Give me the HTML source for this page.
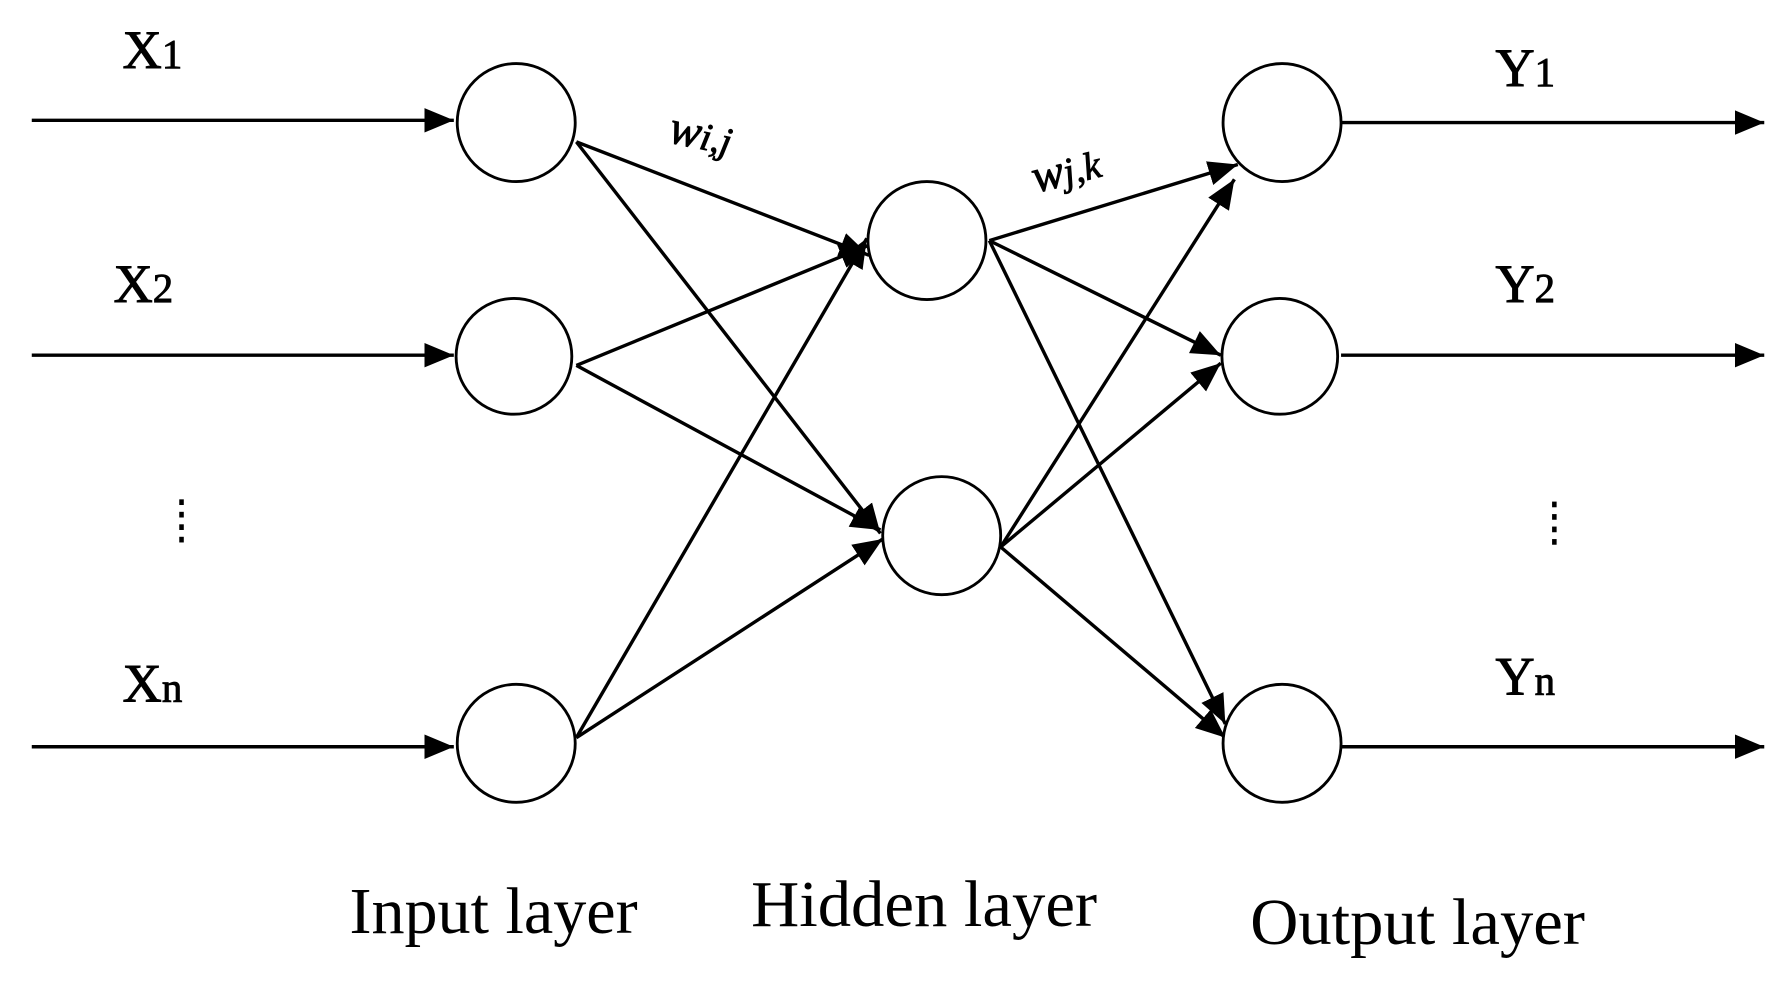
<!DOCTYPE html>
<html><head><meta charset="utf-8"><style>
html,body{margin:0;padding:0;background:#fff;}
svg{display:block;}
text{font-family:"Liberation Serif",serif;fill:#000;}
</style></head><body>
<svg width="1779" height="993" viewBox="0 0 1568 875" preserveAspectRatio="none" xmlns="http://www.w3.org/2000/svg">
<defs>
<marker id="ah" viewBox="0 0 24 20" refX="24" refY="10" markerWidth="26" markerHeight="22" markerUnits="userSpaceOnUse" orient="auto">
<path d="M0,0 L24,10 L0,20 Z" fill="#000"/>
</marker>
</defs>
<g stroke="#000" stroke-width="3" fill="none">
<line x1="28" y1="106" x2="400" y2="106" marker-end="url(#ah)"/>
<line x1="28" y1="313" x2="400" y2="313" marker-end="url(#ah)"/>
<line x1="28" y1="658" x2="400" y2="658" marker-end="url(#ah)"/>
<line x1="1182" y1="108" x2="1555" y2="108" marker-end="url(#ah)"/>
<line x1="1182" y1="313" x2="1555" y2="313" marker-end="url(#ah)"/>
<line x1="1182" y1="658" x2="1555" y2="658" marker-end="url(#ah)"/>
<line x1="508" y1="125" x2="766" y2="225" marker-end="url(#ah)"/>
<line x1="508" y1="125" x2="776" y2="470" marker-end="url(#ah)"/>
<line x1="508" y1="322" x2="766" y2="216" marker-end="url(#ah)"/>
<line x1="508" y1="322" x2="776" y2="467" marker-end="url(#ah)"/>
<line x1="508" y1="650" x2="764" y2="210" marker-end="url(#ah)"/>
<line x1="508" y1="650" x2="778" y2="475" marker-end="url(#ah)"/>
<line x1="872" y1="212" x2="1091" y2="145" marker-end="url(#ah)"/>
<line x1="872" y1="212" x2="1076" y2="313" marker-end="url(#ah)"/>
<line x1="872" y1="212" x2="1080" y2="638" marker-end="url(#ah)"/>
<line x1="882" y1="482" x2="1088" y2="158" marker-end="url(#ah)"/>
<line x1="882" y1="482" x2="1076" y2="320" marker-end="url(#ah)"/>
<line x1="882" y1="482" x2="1080" y2="650" marker-end="url(#ah)"/>
</g>
<g stroke="#000" stroke-width="2.5" fill="#fff">
<circle cx="455" cy="108" r="52"/>
<circle cx="453" cy="314" r="51"/>
<circle cx="455" cy="655" r="52"/>
<circle cx="817" cy="212" r="52"/>
<circle cx="830" cy="472" r="52"/>
<circle cx="1130" cy="108" r="52"/>
<circle cx="1128" cy="314" r="51"/>
<circle cx="1130" cy="655" r="52"/>
</g>
<g stroke="#000" stroke-width="0.8">
<text x="108" y="60" font-size="48">X<tspan font-size="36">1</tspan></text>
<text x="100" y="266" font-size="48">X<tspan font-size="36">2</tspan></text>
<text x="108" y="618" font-size="48">X<tspan font-size="36">n</tspan></text>
<text x="1318" y="76" font-size="48">Y<tspan font-size="36">1</tspan></text>
<text x="1318" y="266" font-size="48">Y<tspan font-size="36">2</tspan></text>
<text x="1318" y="612" font-size="48">Y<tspan font-size="36">n</tspan></text>
<text x="588" y="125" font-size="42" font-style="italic" transform="rotate(12 588 125)">w<tspan font-size="34">i,j</tspan></text>
<text x="913" y="170" font-size="42" font-style="italic" transform="rotate(-14 913 170)">w<tspan font-size="34">j,k</tspan></text>
</g>
<g fill="#000">
<rect x="158" y="440" width="4" height="5"/><rect x="158" y="451" width="4" height="5"/><rect x="158" y="462" width="4" height="5"/><rect x="158" y="473" width="4" height="5"/>
<rect x="1368" y="442" width="4" height="5"/><rect x="1368" y="453" width="4" height="5"/><rect x="1368" y="464" width="4" height="5"/><rect x="1368" y="475" width="4" height="5"/>
</g>
<text x="308" y="822" font-size="58" textLength="254" lengthAdjust="spacingAndGlyphs">Input layer</text>
<text x="662" y="816" font-size="58" textLength="305" lengthAdjust="spacingAndGlyphs">Hidden layer</text>
<text x="1102" y="832" font-size="58" textLength="295" lengthAdjust="spacingAndGlyphs">Output layer</text>
</svg>
</body></html>
